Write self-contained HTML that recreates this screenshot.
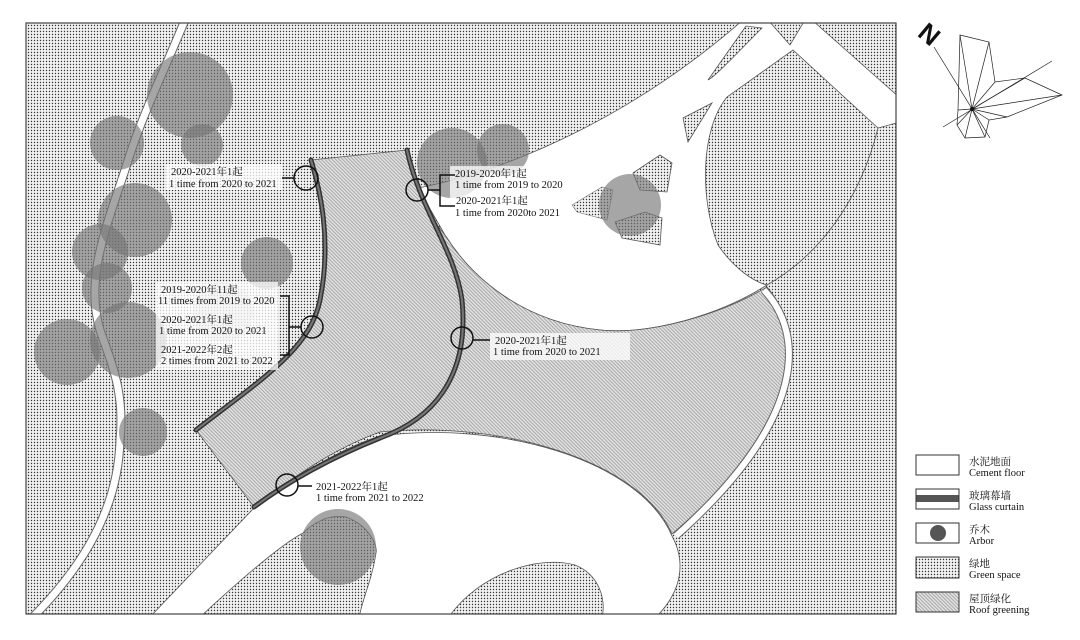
<!DOCTYPE html>
<html><head><meta charset="utf-8"><style>
html,body{margin:0;padding:0;background:#fff;}
svg{display:block;}
text{font-family:"Liberation Serif","Noto Serif CJK SC","Noto Sans CJK SC",serif;fill:#111;}
text.n{font-family:"Liberation Sans","DejaVu Sans",sans-serif;font-weight:bold;}
</style></head><body>
<svg width="1080" height="640" viewBox="0 0 1080 640" xmlns="http://www.w3.org/2000/svg">
<defs>
<pattern id="dots" width="3" height="3" patternUnits="userSpaceOnUse">
<rect width="3" height="3" fill="#f2f2f2"/><circle cx="1.5" cy="1.5" r="0.7" fill="#333"/>
</pattern>
<pattern id="hatch" width="2.5" height="2.5" patternUnits="userSpaceOnUse" patternTransform="rotate(45)">
<rect width="2.5" height="2.5" fill="#e2e2e2"/><rect width="2.5" height="0.8" fill="#9a9a9a"/>
</pattern>
<clipPath id="fr"><rect x="26" y="23" width="870" height="591"/></clipPath>
</defs>

<g clip-path="url(#fr)">
<rect x="26" y="23" width="870" height="591" fill="url(#dots)"/>

<path d="M185,20 C160,80 140,120 125,170 C105,230 85,280 100,330 C110,360 125,390 120,440 C118,520 70,580 30,620" fill="none" stroke="#666" stroke-width="9"/>
<path d="M185,20 C160,80 140,120 125,170 C105,230 85,280 100,330 C110,360 125,390 120,440 C118,520 70,580 30,620" fill="none" stroke="#fff" stroke-width="7"/>

<path d="M418,188 C520,168 640,110 743,20 L768,20 L790,45 L805,20 L812,20 L900,98 L900,122 L878,128 L793,50 L727,97 C700,130 700,200 718,245 C735,270 755,282 767,285 C720,315 650,335 600,330 C520,322 470,275 445,235 Z" fill="#fff" stroke="#555" stroke-width="0.8"/>
<path d="M878,128 C860,200 820,255 767,285" fill="none" stroke="#555" stroke-width="0.8"/>
<path d="M746,26 L708,80 C716,76 740,50 762,28 Z" fill="url(#dots)" stroke="#555" stroke-width="0.8"/>
<path d="M712,103 L683,118 L688,142 Z" fill="url(#dots)" stroke="#555" stroke-width="0.8"/>
<path d="M633,173 L660,155 L672,163 L667,192 L640,190 Z" fill="url(#dots)" stroke="#555" stroke-width="0.8"/>
<path d="M622,238 L660,245 L662,218 L645,212 L615,222 Z" fill="url(#dots)" stroke="#555" stroke-width="0.8"/>
<path d="M572,205 L602,187 L613,190 L607,220 L577,212 Z" fill="url(#dots)" stroke="#777" stroke-width="0.6"/>

<path d="M311,160 L407,150 C418,195 432,220 445,235 C470,275 520,322 600,330 C650,335 720,315 767,287 C805,330 805,420 672,534 C640,460 500,420 380,432 C330,450 290,480 254,507 L196,430 C260,380 310,350 320,300 C332,240 320,190 311,160 Z" fill="url(#hatch)" stroke="#555" stroke-width="0.8"/>
<path d="M764,290 C806,335 806,420 676,536" fill="none" stroke="#666" stroke-width="8"/>
<path d="M764,290 C806,335 806,420 676,536" fill="none" stroke="#fff" stroke-width="6"/>

<path d="M254,508 C290,482 330,452 380,436 C500,420 640,460 672,536 C685,560 684,590 655,618 L149,618 Z" fill="#fff" stroke="#555" stroke-width="0.8"/>
<path d="M199,618 C240,580 280,545 303,533 C320,517 335,515 346,517 C368,525 378,545 376,553 C372,580 362,600 359,618 Z" fill="url(#dots)" stroke="#555" stroke-width="0.8"/>
<path d="M448,618 C480,572 540,555 575,565 C600,575 606,600 602,618 Z" fill="url(#dots)" stroke="#555" stroke-width="0.8"/>

<g fill="#777" fill-opacity="0.65">
<circle cx="190" cy="95" r="43"/>
<circle cx="117" cy="143" r="27"/>
<circle cx="202" cy="145" r="21"/>
<circle cx="135" cy="220" r="37"/>
<circle cx="100" cy="252" r="28"/>
<circle cx="107" cy="288" r="25"/>
<circle cx="128" cy="340" r="38"/>
<circle cx="67" cy="352" r="33"/>
<circle cx="267" cy="263" r="26"/>
<circle cx="143" cy="432" r="24"/>
<circle cx="452" cy="163" r="35"/>
<circle cx="503" cy="150" r="26"/>
<circle cx="630" cy="205" r="31"/>
<circle cx="338" cy="547" r="38"/>
</g>
<circle cx="223" cy="312" r="30" fill="#aaa" fill-opacity="0.3"/>

<g fill="none" stroke-linecap="round">
<path d="M311,160 C320,190 332,240 320,300 C310,350 260,380 196,430" stroke="#333" stroke-width="5"/>
<path d="M311,160 C320,190 332,240 320,300 C310,350 260,380 196,430" stroke="#777" stroke-width="2"/>
<path d="M407,150 C420,210 455,250 462,300 C470,380 430,420 380,438 C330,458 290,480 254,507" stroke="#333" stroke-width="5"/>
<path d="M407,150 C420,210 455,250 462,300 C470,380 430,420 380,438 C330,458 290,480 254,507" stroke="#777" stroke-width="2"/>
</g>
</g>
<rect x="26" y="23" width="870" height="591" fill="none" stroke="#444" stroke-width="1.2"/>

<g fill="#fff" fill-opacity="0.75">
<rect x="166" y="164" width="116" height="26"/>
<rect x="450" y="166" width="118" height="54"/>
<rect x="156" y="282" width="122" height="88"/>
<rect x="490" y="333" width="140" height="27"/>
</g>
<g fill="none" stroke="#111" stroke-width="1.5">
<circle cx="306" cy="178" r="12"/>
<line x1="282" y1="178" x2="294" y2="178"/>
<circle cx="417" cy="190" r="11"/>
<line x1="428" y1="190" x2="440" y2="190"/>
<path d="M455,175 L440,175 L440,206 L455,206"/>
<circle cx="312" cy="327" r="11"/>
<line x1="289" y1="327" x2="301" y2="327"/>
<path d="M280,296 L289,296 L289,355 L280,355"/>
<circle cx="462" cy="338" r="11"/>
<line x1="473" y1="340" x2="490" y2="340"/>
<circle cx="287" cy="485" r="11"/>
<line x1="298" y1="486" x2="312" y2="486"/>
</g>
<g font-size="10.5">
<text x="171" y="175">2020-2021年1起</text>
<text x="169" y="187">1 time from 2020 to 2021</text>
<text x="455" y="177">2019-2020年1起</text>
<text x="455" y="188">1 time from 2019 to 2020</text>
<text x="456" y="204">2020-2021年1起</text>
<text x="455" y="216">1 time from 2020to 2021</text>
<text x="161" y="293">2019-2020年11起</text>
<text x="158" y="304">11 times from 2019 to 2020</text>
<text x="161" y="323">2020-2021年1起</text>
<text x="159" y="334">1 time from 2020 to 2021</text>
<text x="161" y="353">2021-2022年2起</text>
<text x="161" y="364">2 times from 2021 to 2022</text>
<text x="495" y="344">2020-2021年1起</text>
<text x="493" y="355">1 time from 2020 to 2021</text>
<text x="316" y="490">2021-2022年1起</text>
<text x="316" y="501">1 time from 2021 to 2022</text>
</g>

<g stroke="#333" stroke-width="1">
<rect x="916" y="455" width="43" height="20" fill="#fff"/>
<rect x="916" y="489" width="43" height="20" fill="#fff"/>
<rect x="916" y="523" width="43" height="20" fill="#fff"/>
<rect x="916" y="557" width="43" height="21" fill="url(#dots)"/>
<rect x="916" y="592" width="43" height="20" fill="url(#hatch)"/>
</g>
<rect x="916.5" y="495" width="42" height="7" fill="#555"/>
<circle cx="938" cy="533" r="8" fill="#555"/>
<g font-size="10.5">
<text x="969" y="465">水泥地面</text><text x="969" y="476">Cement floor</text>
<text x="969" y="499">玻璃幕墙</text><text x="969" y="510">Glass curtain</text>
<text x="969" y="533">乔木</text><text x="969" y="544">Arbor</text>
<text x="969" y="567">绿地</text><text x="969" y="578">Green space</text>
<text x="969" y="602">屋顶绿化</text><text x="969" y="613">Roof greening</text>
</g>

<text class="n" x="-9" y="9" font-size="26" transform="translate(929,34) rotate(40)">N</text>
<g fill="none" stroke="#222" stroke-width="0.7">
<path d="M960,35 L989,42 L995,82 L1025,78 L1062,95 L1007,117 L989,120 L985,137 L965,138 L957,125 L958,110 Z"/>
<line x1="934" y1="47" x2="990" y2="138"/>
<line x1="943" y1="127" x2="1052" y2="61"/>
<path d="M972,109 L960,35 M972,109 L989,42 M972,109 L995,82 M972,109 L1025,78 M972,109 L1062,95 M972,109 L1007,117 M972,109 L989,120 M972,109 L985,137 M972,109 L965,138 M972,109 L957,125 M972,109 L958,110"/>
</g>
<circle cx="972" cy="109" r="2" fill="#111"/>
</svg>
</body></html>
